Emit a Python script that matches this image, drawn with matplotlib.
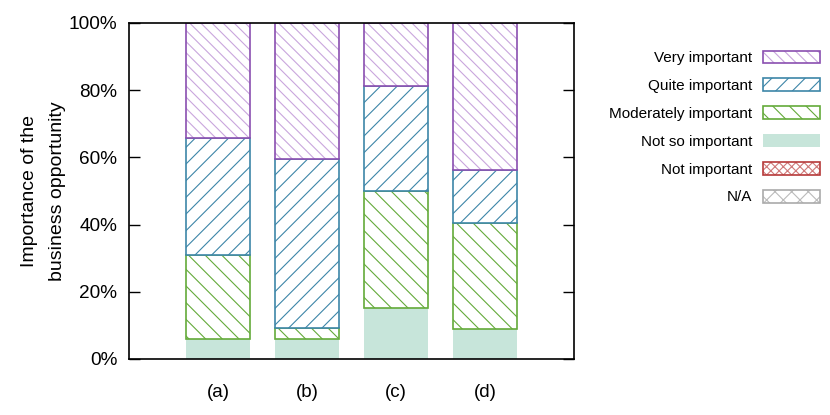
import numpy as np
import matplotlib
matplotlib.use("Agg")
import matplotlib.pyplot as plt
from matplotlib.patches import Patch

plt.rcParams["font.family"] = ["Liberation Sans", "DejaVu Sans"]
plt.rcParams["hatch.linewidth"] = 0.8

groups = ["(a)", "(b)", "(c)", "(d)"]
categories = ["Not important", "N/A", "Not so important", "Moderately important",
              "Quite important", "Very important"]
not_important = [0, 0, 0, 0]
na = [0, 0, 0, 0]
not_so = [6.0, 6.0, 15.2, 9.0]
moderate = [25.0, 3.3, 34.7, 31.6]
quite = [34.7, 50.1, 31.3, 15.5]
very = [34.3, 40.6, 18.8, 43.9]
yticks = [0, 20, 40, 60, 80, 100]

# (edge colour, hatch colour, hatch, filled)
styles = {
    "Very important": ("#8a4fb0", "#c9a6dd", "\\\\\\", False),
    "Quite important": ("#3d86a8", "#3d86a8", "//", False),
    "Moderately important": ("#64aa3a", "#64aa3a", "\\\\", False),
    "Not so important": (None, "#c7e5da", None, True),
    "Not important": ("#b63a3a", "#cf7a7a", "xxxx", False),
    "N/A": ("#aaaaaa", "#bbbbbb", "xx", False),
}
series = {
    "Not important": not_important,
    "N/A": na,
    "Not so important": not_so,
    "Moderately important": moderate,
    "Quite important": quite,
    "Very important": very,
}

fig = plt.figure(figsize=(8.3, 4.15), dpi=100)
ax = fig.add_axes([0.1554, 0.135, 0.5362, 0.8096])

x = np.arange(len(groups))
width = 0.71
bottom = np.zeros(len(groups))
for name in ["Not so important", "Moderately important", "Quite important", "Very important"]:
    vals = np.array(series[name])
    edge, hcol, hatch, filled = styles[name]
    if filled:
        ax.bar(x, vals, width, bottom=bottom, color=hcol, linewidth=0)
    else:
        ax.bar(x, vals, width, bottom=bottom, facecolor="white", edgecolor=hcol,
               hatch=hatch, linewidth=0)
        ax.bar(x, vals, width, bottom=bottom, fill=False, edgecolor=edge, linewidth=1.2)
    bottom += vals

legend_order = ["Very important", "Quite important", "Moderately important",
                "Not so important", "Not important", "N/A"]
leg_handles = []
for name in legend_order:
    edge, hcol, hatch, filled = styles[name]
    if filled:
        leg_handles.append(Patch(facecolor=hcol, linewidth=0))
    else:
        leg_handles.append((Patch(facecolor="white", edgecolor=hcol, hatch=hatch, linewidth=0),
                            Patch(fill=False, edgecolor=edge, linewidth=1.2)))

fig.legend(leg_handles, legend_order, loc="upper right", bbox_to_anchor=(0.995, 0.893),
           frameon=False, markerfirst=False, fontsize=11, handlelength=3.7,
           handleheight=0.92, labelspacing=0.86, handletextpad=0.7, borderaxespad=0)

ax.set_xlim(-1, 4)
ax.set_ylim(0, 100)
ax.set_xticks(x)
ax.set_xticklabels(groups, fontsize=13.5)
ax.set_yticks(yticks)
ax.set_yticklabels([f"{v}%" for v in yticks], fontsize=13.7)
ax.tick_params(axis="x", length=0, pad=18)
ax.tick_params(axis="y", direction="in", length=8, width=1, left=True, right=True, pad=8.5)
for s in ax.spines.values():
    s.set_linewidth(1.2)
ax.set_ylabel("Importance of the\nbusiness opportunity", fontsize=14, labelpad=2,
              linespacing=1.8)

fig.savefig("out.png", dpi=100)
